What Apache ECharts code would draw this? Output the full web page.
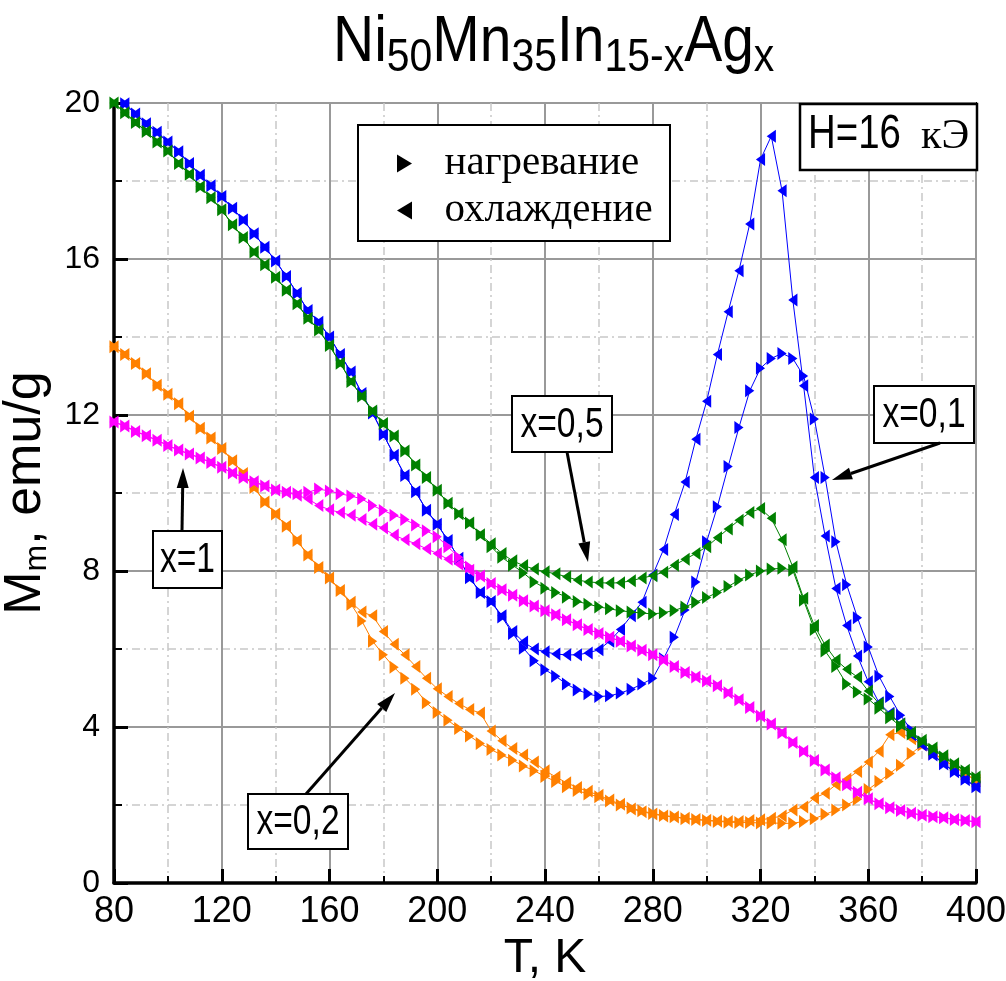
<!DOCTYPE html>
<html>
<head>
<meta charset="utf-8">
<script src="https://cdn.jsdelivr.net/npm/echarts@6/dist/echarts.min.js"></script>
<style>
  html, body { margin: 0; padding: 0; background: #fff; }
  #chart { width: 1006px; height: 981px; }
</style>
</head>
<body>
<div id="chart"></div>
<script>
// Temperature grid, K
const temperature = [
  80, 84, 88, 92, 96, 100, 104, 108, 112, 116,
  120, 124, 128, 132, 136, 140, 144, 148, 152, 156,
  160, 164, 168, 172, 176, 180, 184, 188, 192, 196,
  200, 204, 208, 212, 216, 220, 224, 228, 232, 236,
  240, 244, 248, 252, 256, 260, 264, 268, 272, 276,
  280, 284, 288, 292, 296, 300, 304, 308, 312, 316,
  320, 324, 328, 332, 336, 340, 344, 348, 352, 356,
  360, 364, 368, 372, 376, 380, 384, 388, 392, 396,
  400
];

// x = 0.1 (blue)
const heat01 = [
  null, 19.98, 19.72, 19.47, 19.25, 19.0, 18.75, 18.45, 18.15, 17.88,
  17.6, 17.3, 17.0, 16.65, 16.3, 15.95, 15.55, 15.12, 14.68, 14.38,
  14.0, 13.55, 13.1, 12.55, 12.05, 11.5, 10.97, 10.45, 10.03, 9.56,
  9.2, 8.78, 8.33, 7.83, 7.45, 7.22, 6.82, 6.4, 6.02, 5.7,
  5.47, 5.3, 5.1, 4.95, 4.85, 4.78, 4.8, 4.87, 4.97, 5.1,
  5.25, 5.75, 6.3, 7.0, 7.72, 8.75, 9.65, 10.68, 11.68, 12.62,
  13.2, 13.45, 13.58, 13.45, 13.0, 11.9, 10.4, 8.75, 7.65, 6.8,
  6.05, 5.3, 4.78, 4.3, 3.92, 3.6, 3.3, 3.06, 2.86, 2.66,
  2.47
];
const cool01 = [
  null, 19.98, 19.72, 19.47, 19.25, 19.0, 18.75, 18.45, 18.15, 17.88,
  17.6, 17.3, 17.0, 16.65, 16.3, 15.95, 15.55, 15.12, 14.68, 14.38,
  14.0, 13.55, 13.1, 12.55, 12.05, 11.5, 10.97, 10.45, 10.03, 9.56,
  9.2, 8.78, 8.33, 7.83, 7.45, 7.22, 6.85, 6.45, 6.18, 6.0,
  5.93, 5.87, 5.85, 5.85, 5.9, 5.98, 6.2, 6.5, 6.85, 7.2,
  7.9, 8.55, 9.45, 10.28, 11.38, 12.35, 13.55, 14.65, 15.7, 16.9,
  18.55, 19.15, 17.75, 14.95, 12.75, 10.4, 8.9, 7.55, 6.6, 5.82,
  5.16, 4.62, 4.35, 4.08, 3.8, 3.54, 3.28, 3.05, 2.85, 2.65,
  2.46
];

// x = 0.5 (green)
const heat05 = [
  20.0, 19.75, 19.5, 19.27, 19.0, 18.77, 18.45, 18.17, 17.85, 17.57,
  17.26, 16.88, 16.55, 16.18, 15.85, 15.53, 15.2, 14.85, 14.48, 14.18,
  13.78, 13.33, 12.86, 12.48, 12.1, 11.78, 11.46, 11.08, 10.72, 10.4,
  10.07, 9.74, 9.47, 9.23, 8.93, 8.62, 8.35, 8.15, 7.95, 7.72,
  7.56, 7.45, 7.33, 7.22, 7.15, 7.08, 7.03, 6.98, 6.95, 6.92,
  6.9, 6.93, 6.99, 7.08, 7.2, 7.32, 7.45, 7.6, 7.77, 7.9,
  8.0, 8.05, 8.07, 8.02, 7.25, 6.5, 5.95, 5.55, 5.1, 4.9,
  4.72, 4.48, 4.24, 4.02, 3.82, 3.62, 3.43, 3.23, 3.04, 2.87,
  2.7
];
const cool05 = [
  20.0, 19.75, 19.5, 19.27, 19.0, 18.77, 18.45, 18.17, 17.85, 17.57,
  17.26, 16.88, 16.55, 16.18, 15.85, 15.53, 15.2, 14.85, 14.48, 14.18,
  13.78, 13.33, 12.86, 12.48, 12.1, 11.78, 11.46, 11.08, 10.72, 10.4,
  10.07, 9.74, 9.47, 9.23, 8.93, 8.7, 8.45, 8.26, 8.14, 8.05,
  7.98, 7.93, 7.85, 7.77, 7.72, 7.7, 7.69, 7.7, 7.75, 7.82,
  7.88, 7.97, 8.15, 8.3, 8.45, 8.62, 8.85, 9.08, 9.3, 9.5,
  9.6, 9.35, 8.8, 8.1, 7.3, 6.6, 6.1, 5.72, 5.48, 5.28,
  4.92, 4.6, 4.32, 4.08, 3.86, 3.66, 3.46, 3.26, 3.06, 2.89,
  2.72
];

// x = 0.2 (orange)
const heat02 = [
  13.75, 13.55, 13.32, 13.06, 12.76, 12.53, 12.29, 11.97, 11.66, 11.41,
  11.14, 10.83, 10.5, 10.14, 9.77, 9.46, 9.15, 8.78, 8.41, 8.09,
  7.82, 7.5, 7.15, 6.72, 6.2, 5.85, 5.53, 5.25, 4.97, 4.62,
  4.37, 4.17, 3.96, 3.77, 3.58, 3.42, 3.28, 3.15, 3.0, 2.88,
  2.73, 2.6, 2.47, 2.37, 2.28, 2.21, 2.1, 2.0, 1.92, 1.85,
  1.78, 1.73, 1.7, 1.65, 1.63, 1.6, 1.58, 1.56, 1.55, 1.55,
  1.54, 1.54, 1.53, 1.53, 1.58, 1.65, 1.76, 1.87, 2.0, 2.15,
  2.4, 2.6, 2.81, 3.02, 3.32, 3.54, 3.33, 3.15, 2.98, 2.8,
  2.62
];
const cool02 = [
  13.75, 13.55, 13.32, 13.06, 12.76, 12.53, 12.29, 11.97, 11.66, 11.41,
  11.14, 10.83, 10.5, 10.14, 9.77, 9.46, 9.15, 8.78, 8.41, 8.09,
  7.82, 7.5, 7.2, 6.95, 6.85, 6.45, 6.12, 5.85, 5.55, 5.25,
  4.98, 4.78, 4.6, 4.45, 4.36, 3.9, 3.65, 3.45, 3.28, 3.1,
  2.88, 2.72, 2.57, 2.45, 2.35, 2.25, 2.13, 2.02, 1.9, 1.83,
  1.77, 1.72, 1.69, 1.66, 1.63, 1.61, 1.59, 1.58, 1.58, 1.6,
  1.62, 1.66, 1.72, 1.87, 1.95, 2.18, 2.3, 2.52, 2.66, 2.86,
  3.1, 3.38, 3.8, 3.86, 3.7, 3.54, 3.34, 3.16, 2.99, 2.81,
  2.63
];

// x = 1 (magenta)
const heat1 = [
  11.82, 11.72, 11.58, 11.47, 11.35, 11.22, 11.1, 11.0, 10.9, 10.78,
  10.66, 10.51, 10.4, 10.29, 10.18, 10.08, 10.02, 9.98, 10.02, 10.1,
  10.05, 9.98, 9.92, 9.85, 9.68, 9.55, 9.43, 9.32, 9.18, 9.03,
  8.88, 8.62, 8.35, 8.1, 7.87, 7.68, 7.52, 7.38, 7.24, 7.1,
  6.98, 6.88, 6.75, 6.62, 6.5, 6.4, 6.3, 6.2, 6.08, 5.97,
  5.85, 5.72, 5.55, 5.4, 5.28, 5.18, 5.06, 4.88, 4.7, 4.5,
  4.28, 4.08, 3.85, 3.6, 3.38, 3.14, 2.9, 2.7, 2.52, 2.33,
  2.16, 2.03, 1.93, 1.86, 1.79, 1.74, 1.7, 1.67, 1.63, 1.6,
  1.57
];
const cool1 = [
  11.82, 11.72, 11.58, 11.47, 11.35, 11.22, 11.1, 11.0, 10.9, 10.78,
  10.66, 10.51, 10.4, 10.29, 10.18, 10.08, 10.02, 9.94, 9.85, 9.68,
  9.57, 9.5, 9.43, 9.32, 9.2, 9.1, 8.92, 8.8, 8.7, 8.57,
  8.45, 8.3, 8.17, 8.02, 7.87, 7.68, 7.52, 7.38, 7.24, 7.1,
  6.98, 6.88, 6.75, 6.62, 6.5, 6.4, 6.3, 6.2, 6.08, 5.97,
  5.85, 5.72, 5.55, 5.4, 5.28, 5.18, 5.06, 4.88, 4.7, 4.5,
  4.28, 4.08, 3.85, 3.6, 3.38, 3.14, 2.9, 2.7, 2.52, 2.33,
  2.16, 2.03, 1.93, 1.86, 1.79, 1.74, 1.7, 1.67, 1.63, 1.6,
  1.57
];

const xTicks = [80, 120, 160, 200, 240, 280, 320, 360, 400];
const yTicks = [0, 4, 8, 12, 16, 20];

const SANS = '"Liberation Sans", Arial, sans-serif';
const SERIF = '"Liberation Serif", "Times New Roman", serif';
const NARROW_SCALE = 0.8;   // horizontal squeeze that gives Arial a narrow cut

// Triangles pointing right (heating) and left (cooling)
const RIGHT = 'path://M0,0L10,6L0,12Z';
const LEFT = 'path://M10,0L0,6L10,12Z';

function pairs(values) {
  return temperature.map((t, i) => [t, values[i]]).filter(p => p[1] != null);
}

function curve(name, values, color, symbol, z) {
  return {
    name: name,
    type: 'line',
    data: pairs(values),
    symbol: symbol,
    symbolSize: [11, 13],
    symbolKeepAspect: true,
    showSymbol: true,
    showAllSymbol: true,
    lineStyle: { color: color, width: 1 },
    itemStyle: { color: color },
    emphasis: { disabled: true },
    z: z,
    animation: false
  };
}

const HEAT = 'нагревание';
const COOL = 'охлаждение';

const series = [
  curve(HEAT, heat02, '#ff8000', RIGHT, 2),
  curve(COOL, cool02, '#ff8000', LEFT, 2),
  curve(HEAT, heat01, '#0000ff', RIGHT, 3),
  curve(COOL, cool01, '#0000ff', LEFT, 3),
  curve(HEAT, heat05, '#008000', RIGHT, 4),
  curve(COOL, cool05, '#008000', LEFT, 4),
  curve(HEAT, heat1, '#ff00ff', RIGHT, 5),
  curve(COOL, cool1, '#ff00ff', LEFT, 5)
];

// Boxed labels with arrows
function arrow(x1, y1, x2, y2) {
  const dx = x2 - x1, dy = y2 - y1, L = Math.hypot(dx, dy);
  const ux = dx / L, uy = dy / L, hl = 20, hw = 6;
  const bx = x2 - ux * hl, by = y2 - uy * hl;
  return [
    { type: 'line', z: 20, shape: { x1: x1, y1: y1, x2: bx, y2: by },
      style: { stroke: '#000', lineWidth: 3 } },
    { type: 'polygon', z: 20,
      shape: { points: [[x2, y2], [bx - uy * hw, by + ux * hw], [bx + uy * hw, by - ux * hw]] },
      style: { fill: '#000' } }
  ];
}
function box(x, y, w, h, text, size) {
  return [
    { type: 'rect', z: 20, shape: { x: x, y: y, width: w, height: h },
      style: { fill: '#fff', stroke: '#000', lineWidth: 2 } },
    { type: 'text', z: 21, x: x + w / 2, y: y + h / 2 + 1, scaleX: NARROW_SCALE,
      style: { text: text, x: 0, y: 0, align: 'center', verticalAlign: 'middle',
        fontFamily: SANS, fontSize: size, fill: '#000' } }
  ];
}

const graphics = [].concat(
  // title: Ni50Mn35In15-xAgx
  [{ type: 'text', z: 21, x: 333, y: 11, scaleX: 0.89,
     style: {
       text: '{m|Ni}{s|50}{m|Mn}{s|35}{m|In}{s|15-x}{m|Ag}{s|x}',
       x: 0, y: 0, align: 'left', verticalAlign: 'top',
       rich: {
         m: { fontFamily: SANS, fontSize: 64, fill: '#000', lineHeight: 70, verticalAlign: 'top' },
         s: { fontFamily: SANS, fontSize: 46, fill: '#000', lineHeight: 6, verticalAlign: 'bottom' }
       } } }],
  // legend frame
  [{ type: 'rect', z: 20, shape: { x: 358, y: 125, width: 312, height: 116 },
     style: { fill: '#fff', stroke: '#000', lineWidth: 2 } }],
  // field label
  [{ type: 'rect', z: 20, shape: { x: 800, y: 104, width: 177, height: 66 },
     style: { fill: '#fff', stroke: '#000', lineWidth: 2.5 } },
   { type: 'text', z: 21, x: 808, y: 135, scaleX: NARROW_SCALE,
     style: { text: 'H=16', x: 0, y: 0, align: 'left', verticalAlign: 'middle',
       fontFamily: SANS, fontSize: 48, fill: '#000' } },
   { type: 'text', z: 21, x: 921, y: 137,
     style: { text: 'кЭ', x: 0, y: 0, align: 'left', verticalAlign: 'middle',
       fontFamily: SERIF, fontSize: 42, fill: '#000' } }],
  box(512, 396, 100, 56, 'x=0,5', 42),
  arrow(567, 452, 588, 562),
  box(874, 386, 100, 57, 'x=0,1', 42),
  arrow(940, 443, 832, 480),
  box(153, 531, 69, 57, 'x=1', 42),
  arrow(182, 531, 183, 468),
  box(248, 794, 100, 55, 'x=0,2', 42),
  arrow(306, 794, 395, 693)
);

const chart = echarts.init(document.getElementById('chart'), null, { renderer: 'canvas' });

chart.setOption({
  backgroundColor: '#fff',
  animation: false,
  legend: {
    orient: 'vertical',
    left: 397,
    top: 143,
    z: 30,
    padding: 0,
    itemGap: 6,
    itemWidth: 70,
    itemHeight: 18,
    selectedMode: false,
    itemStyle: { color: '#000', borderWidth: 0 },
    textStyle: { fontFamily: SERIF, fontSize: 41, color: '#000', lineHeight: 41 },
    data: [
      { name: HEAT, icon: RIGHT },
      { name: COOL, icon: LEFT }
    ]
  },
  grid: {
    left: 114, right: 30, top: 103, bottom: 98,
    show: true, borderColor: '#000', borderWidth: 2,
    outerBoundsMode: 'none'
  },
  xAxis: {
    type: 'value',
    min: xTicks[0],
    max: xTicks[xTicks.length - 1],
    interval: xTicks[1] - xTicks[0],
    name: 'T, K',
    nameLocation: 'middle',
    nameGap: 44,
    nameTextStyle: { fontFamily: SANS, fontSize: 48, color: '#000' },
    axisLine: { onZero: false, lineStyle: { color: '#000', width: 3.5 } },
    axisTick: { inside: true, length: 14, lineStyle: { color: '#000', width: 3 } },
    minorTick: { show: true, splitNumber: 2, length: 7, lineStyle: { color: '#000', width: 2 } },
    splitLine: { show: true, lineStyle: { color: '#999', width: 2 } },
    minorSplitLine: { show: true, lineStyle: { color: '#c8c8c8', width: 1.5, type: [8, 4, 2, 4] } },
    axisLabel: { fontFamily: SANS, fontSize: 36, color: '#000', margin: 11 }
  },
  yAxis: {
    type: 'value',
    min: yTicks[0],
    max: yTicks[yTicks.length - 1],
    interval: yTicks[1] - yTicks[0],
    name: '{m|M}{s|m}{m|, emu/g}',
    nameLocation: 'middle',
    nameRotate: 90,
    nameGap: 56,
    nameTextStyle: {
      rich: {
        m: { fontFamily: SANS, fontSize: 52, color: '#000', lineHeight: 54, verticalAlign: 'top' },
        s: { fontFamily: SANS, fontSize: 32, color: '#000', lineHeight: 2, verticalAlign: 'bottom' }
      }
    },
    axisLine: { onZero: false, lineStyle: { color: '#000', width: 3.5 } },
    axisTick: { inside: true, length: 14, lineStyle: { color: '#000', width: 3 } },
    minorTick: { show: true, splitNumber: 2, length: 8, lineStyle: { color: '#000', width: 2 } },
    splitLine: { show: true, lineStyle: { color: '#999', width: 2 } },
    minorSplitLine: { show: true, lineStyle: { color: '#c8c8c8', width: 1.5, type: [8, 4, 2, 4] } },
    axisLabel: { fontFamily: SANS, fontSize: 32, color: '#000', margin: 14 }
  },
  graphic: graphics,
  series: series
});
</script>
</body>
</html>
